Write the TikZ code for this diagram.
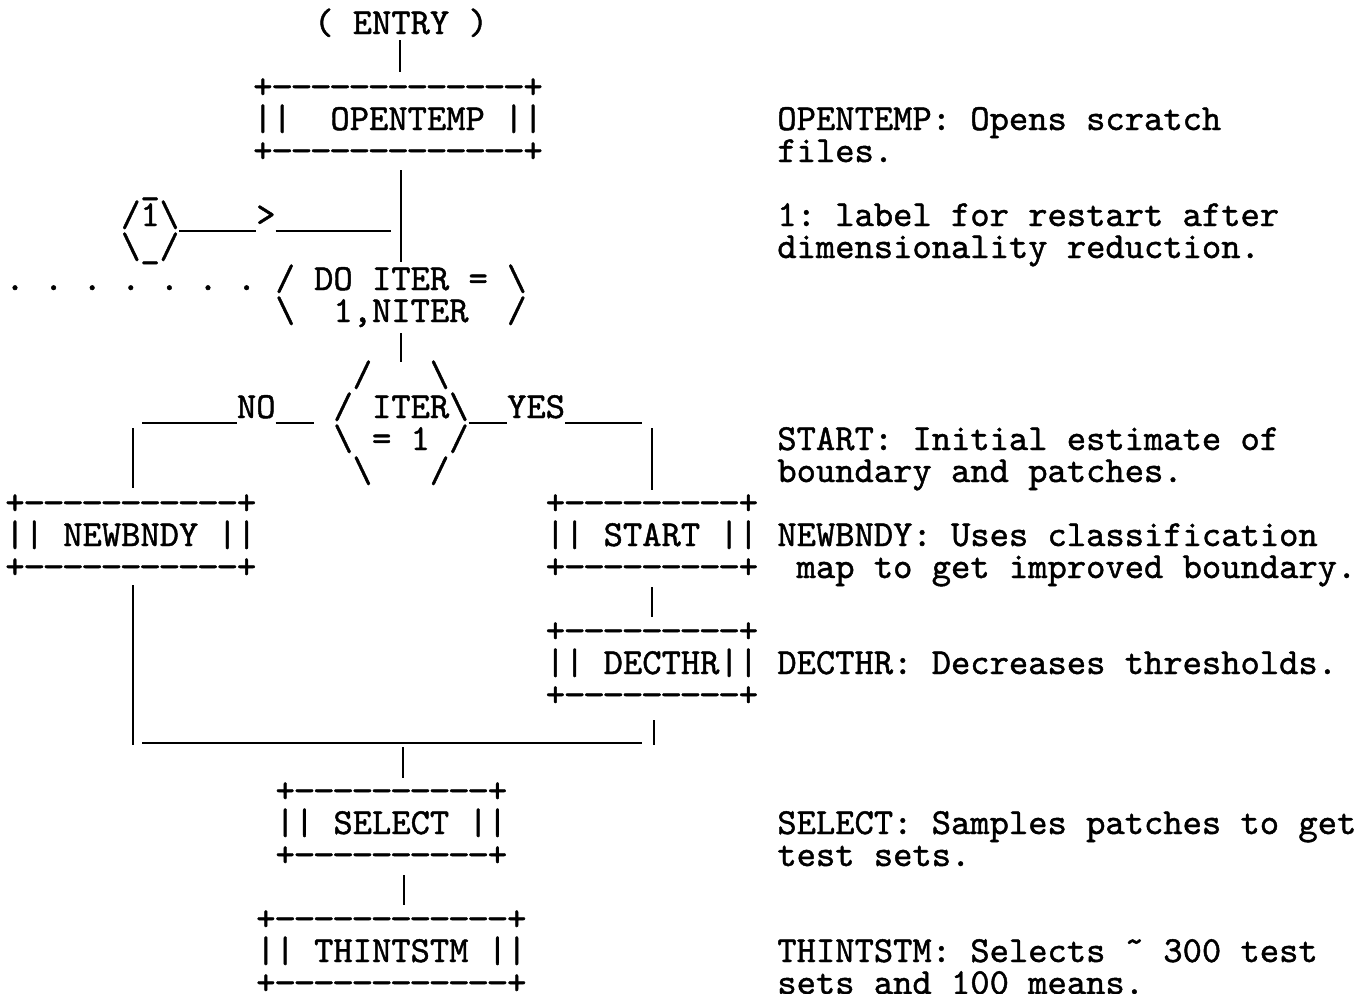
\documentclass[tikz,border=0pt]{standalone}
\usepackage{fontspec}
\usepackage{graphicx}
\newfontfamily\tw{lmmono10-regular.otf}[Ligatures=TeXOff,FakeBold=1.2]
\newcommand\bs{\textbackslash}
\newcommand\D{\makebox[0.525em]{\scalebox{1.15}[1]{-}}}
\newcommand\Dn[1]{\foreach \i in {1,...,#1}{\D}}
\begin{document}
\begin{tikzpicture}[x=0.5pt,y=-0.5pt,
  t/.style={inner sep=0pt, outer sep=0pt, anchor=base west,
            font=\tw\fontsize{18.38}{16}\selectfont\frenchspacing},
  conn/.style={line width=1.1pt}]
\fill[white] (0,0) rectangle (1371,993);
\useasboundingbox (0,0) rectangle (1371,993);

% ---------- left flow chart ----------
\node[t] (entry) at (314.15,34) {( ENTRY )};

\node[t] (ottop) at (253.25,98)  {+\Dn{13}+};
\node[t] (opentemp) at (253.25,130) {||\ \ OPENTEMP ||};
\node[t] (otbot) at (253.25,162) {+\Dn{13}+};

\node[t] (lbar) at (140.45,194) {\_};
\node[t] (lab1) at (121.15,226) {/1\bs};
\node[t] (lab1b) at (121.15,258) {\bs\_/};
\node[t] (arr) at (256.25,226) {>};

\node[t] (dots) at (5.35,290) {. . . . . . .};
\node[t] (do1) at (275.55,290) {/ DO ITER = \bs};
\node[t] (do2) at (275.55,322) {\bs\ \ 1,NITER\ \ /};

\node[t] (d1) at (352.75,386) {/\ \ \ \bs};
\node[t] (d2) at (333.45,418) {/ ITER\bs};
\node[t] (d3) at (333.45,450) {\bs\ =\ 1\ /};
\node[t] (d4) at (352.75,482) {\bs\ \ \ /};
\node[t] (no) at (236.95,418) {NO};
\node[t] (yes) at (507.15,418) {YES};

\node[t] (nbtop) at (5.35,514) {+\Dn{11}+};
\node[t] (newbndy) at (5.35,546) {|| NEWBNDY ||};
\node[t] (nbbot) at (5.35,578) {+\Dn{11}+};

\node[t] (sttop) at (545.75,514) {+\Dn{9}+};
\node[t] (start) at (545.75,546) {|| START ||};
\node[t] (stbot) at (545.75,578) {+\Dn{9}+};

\node[t] (dctop) at (545.75,642) {+\Dn{9}+};
\node[t] (decthr) at (545.75,674) {|| DECTHR||};
\node[t] (dcbot) at (545.75,706) {+\Dn{9}+};

\node[t] (seltop) at (275.55,802) {+\Dn{10}+};
\node[t] (select) at (275.55,834) {|| SELECT ||};
\node[t] (selbot) at (275.55,866) {+\Dn{10}+};

\node[t] (thtop) at (256.25,930) {+\Dn{12}+};
\node[t] (thintstm) at (256.25,962) {|| THINTSTM ||};
\node[t] (thbot) at (256.25,994) {+\Dn{12}+};

% ---------- connector end points ----------
\coordinate (e1) at (400,40);   \coordinate (e2) at (400,72);
\coordinate (o1) at (401,170);  \coordinate (o2) at (401,262);
\coordinate (h1) at (179.05,231); \coordinate (h2) at (256.25,231);
\coordinate (h3) at (275.55,231); \coordinate (h4) at (391.35,231);
\coordinate (i1) at (401,333);  \coordinate (i2) at (401,362);
\coordinate (n1) at (142,423);  \coordinate (n2) at (236.95,423);
\coordinate (n3) at (275.55,423); \coordinate (n4) at (314.15,423);
\coordinate (n5) at (133,428);  \coordinate (n6) at (133,488);
\coordinate (y1) at (468.55,423); \coordinate (y2) at (507.15,423);
\coordinate (y3) at (565.05,423); \coordinate (y4) at (642.25,423);
\coordinate (y5) at (652,428);  \coordinate (y6) at (652,490);
\coordinate (b1) at (133,585);  \coordinate (b2) at (133,745);
\coordinate (s1) at (652,587);  \coordinate (s2) at (652,617);
\coordinate (r1) at (654,720);  \coordinate (r2) at (654,745);
\coordinate (m1) at (142,743);  \coordinate (m2) at (642,743);
\coordinate (m3) at (403,747);  \coordinate (m4) at (403,778);
\coordinate (t1) at (404,875);  \coordinate (t2) at (404,905);

\draw[conn] (e1) -- (e2);
\draw[conn] (o1) -- (o2);
\draw[conn] (h1) -- (h2);
\draw[conn] (h3) -- (h4);
\draw[conn] (i1) -- (i2);
\draw[conn] (n1) -- (n2);
\draw[conn] (n3) -- (n4);
\draw[conn] (n5) -- (n6);
\draw[conn] (y1) -- (y2);
\draw[conn] (y3) -- (y4);
\draw[conn] (y5) -- (y6);
\draw[conn] (b1) -- (b2);
\draw[conn] (s1) -- (s2);
\draw[conn] (r1) -- (r2);
\draw[conn] (m1) -- (m2);
\draw[conn] (m3) -- (m4);
\draw[conn] (t1) -- (t2);

% ---------- right-hand notes ----------
\node[t] (c1) at (777.35,130) {OPENTEMP: Opens scratch};
\node[t] (c2) at (777.35,162) {files.};
\node[t] (c3) at (777.35,226) {1: label for restart after};
\node[t] (c4) at (777.35,258) {dimensionality reduction.};
\node[t] (c5) at (777.35,450) {START: Initial estimate of};
\node[t] (c6) at (777.35,482) {boundary and patches.};
\node[t] (c7) at (777.35,546) {NEWBNDY: Uses classification};
\node[t] (c8) at (796.65,578) {map to get improved boundary.};
\node[t] (c9) at (777.35,674) {DECTHR: Decreases thresholds.};
\node[t] (c10) at (777.35,834) {SELECT: Samples patches to get};
\node[t] (c11) at (777.35,866) {test sets.};
\node[t] (c12) at (777.35,962) {THINTSTM: Selects ˜ 300 test};
\node[t] (c13) at (777.35,994) {sets and 100 means.};
\end{tikzpicture}
\end{document}
